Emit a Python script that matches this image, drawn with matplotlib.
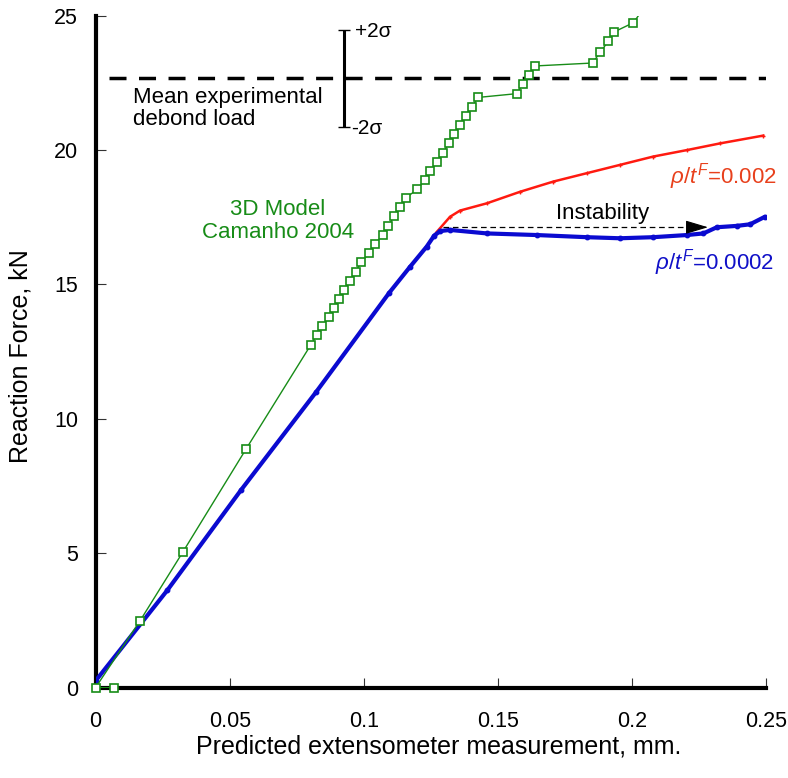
import matplotlib
matplotlib.use("Agg")
import matplotlib.pyplot as plt
import numpy as np

plt.rcParams['font.family'] = ['Liberation Sans', 'DejaVu Sans']
plt.rcParams['mathtext.fontset'] = 'custom'
plt.rcParams['mathtext.rm'] = 'Liberation Sans'
plt.rcParams['mathtext.it'] = 'Liberation Sans:italic'

# ---------------- data ----------------
green_x = [0.0069, 0.0, 0.0166, 0.0325, 0.0561, 0.0802, 0.0824, 0.0845, 0.0870, 0.0890,
           0.0908, 0.0927, 0.0948, 0.0969, 0.0990, 0.1019, 0.1041, 0.1070, 0.1091, 0.1113,
           0.1136, 0.1158, 0.1198, 0.1227, 0.1248, 0.1271, 0.1295, 0.1316, 0.1337, 0.1358,
           0.1379, 0.1402, 0.1426, 0.1569, 0.1592, 0.1615, 0.1636, 0.1852, 0.1880, 0.1911,
           0.1933, 0.2004, 0.2066]
green_y = [0.0, 0.0, 2.49, 5.04, 8.88, 12.75, 13.12, 13.46, 13.78, 14.11,
           14.45, 14.78, 15.13, 15.48, 15.83, 16.16, 16.50, 16.84, 17.19, 17.54,
           17.88, 18.23, 18.54, 18.88, 19.21, 19.55, 19.90, 20.25, 20.59, 20.95,
           21.27, 21.61, 21.96, 22.10, 22.45, 22.79, 23.13, 23.24, 23.64, 24.05,
           24.40, 24.74, 25.60]

red_x = [0.0, 0.0268, 0.0542, 0.0822, 0.1095, 0.1172, 0.1234, 0.1271, 0.1321, 0.1358,
         0.1458, 0.1582, 0.1706, 0.1830, 0.1954, 0.2078, 0.2203, 0.2327, 0.2488]
red_y = [0.25, 3.63, 7.35, 11.0, 14.7, 15.66, 16.41, 16.95, 17.52, 17.75,
         18.02, 18.45, 18.83, 19.14, 19.45, 19.76, 20.00, 20.25, 20.54]

blue_x = [0.0, 0.0268, 0.0542, 0.0822, 0.1095, 0.1172, 0.1234, 0.1262, 0.1285, 0.1321,
          0.1458, 0.1644, 0.1830, 0.1954, 0.2078, 0.2203, 0.2265, 0.2315, 0.2389,
          0.2439, 0.2494]
blue_y = [0.25, 3.63, 7.35, 11.0, 14.7, 15.66, 16.41, 16.82, 16.99, 17.03,
          16.90, 16.84, 16.76, 16.72, 16.76, 16.84, 16.90, 17.13, 17.18,
          17.24, 17.52]

mean_load = 22.67
sigma = 0.9
instab_y = 17.13
instab_x0 = 0.1295
instab_x1 = 0.2282

x_ticks = [0, 0.05, 0.1, 0.15, 0.2, 0.25]
x_ticklabels = ['0', '0.05', '0.1', '0.15', '0.2', '0.25']
y_ticks = [0, 5, 10, 15, 20, 25]
y_ticklabels = ['0', '5', '10', '15', '20', '25']

# ---------------- figure ----------------
fig = plt.figure(figsize=(7.88, 7.78), dpi=100)
ax = fig.add_axes([0.1212, 0.1161, 0.8515, 0.8637])
ax.set_xlim(0, 0.25)
ax.set_ylim(0, 25)

green = '#178c17'
red_c = '#ff1a10'
blue_c = '#0a0ad0'

# red and blue FE curves
ax.plot(red_x, red_y, color=red_c, lw=1.8, marker='+', ms=3.5, mew=1.0, zorder=3)
ax.plot(blue_x, blue_y, color=blue_c, lw=3.0, marker='o', ms=3.2, zorder=4,
        solid_capstyle='round', solid_joinstyle='round')

# green 3D model
ax.plot(green_x, green_y, color=green, lw=1.0, zorder=5)
gx = np.array(green_x); gy = np.array(green_y)
m = gy <= 25
ax.plot(gx[m], gy[m], ls='none', marker='s', ms=6.0, mfc='white', mec=green,
        mew=1.2, clip_on=False, zorder=6)

# mean experimental debond load
ax.plot([0.0051, 0.25], [mean_load, mean_load], color='black', lw=2.5,
        dashes=(4.9, 3.6), zorder=2)
ax.errorbar([0.0926], [mean_load], yerr=[[2 * sigma], [2 * sigma]], fmt='none',
            ecolor='black', elinewidth=2.2, capsize=4, capthick=1.0, zorder=2)
ax.text(0.0965, mean_load + 2 * sigma - 0.07, '+2σ', fontsize=15, va='center', ha='left')
ax.text(0.0954, mean_load - 2 * sigma - 0.07, '-2σ', fontsize=15, va='center', ha='left')
ax.text(0.0141, 21.55, 'Mean experimental\ndebond load', fontsize=16,
        ha='left', va='center', linespacing=1.08)

# labels
ax.text(0.068, 17.36, '3D Model\nCamanho 2004', fontsize=16, color=green,
        ha='center', va='center', linespacing=1.1)
ax.text(0.2537, 19.0, r'$\rho/t^F$=0.002', fontsize=16, color='#e8401c',
        ha='right', va='center', clip_on=False)
ax.text(0.2530, 15.8, r'$\rho/t^F$=0.0002', fontsize=16, color='#1010c8',
        ha='right', va='center', clip_on=False)

# instability arrow
ax.plot([instab_x0, instab_x1 - 0.006], [instab_y, instab_y], color='black',
        lw=0.9, dashes=(4.5, 3.0), zorder=5)
ax.annotate('', xy=(instab_x1, instab_y), xytext=(instab_x1 - 0.007, instab_y),
            arrowprops=dict(arrowstyle='-|>,head_length=1.0,head_width=0.3',
                            mutation_scale=14, color='black', lw=0.8,
                            shrinkA=0, shrinkB=0), zorder=6)
ax.text(0.1891, 17.65, 'Instability', fontsize=16, ha='center', va='center')

# axes styling
for s in ['top', 'right']:
    ax.spines[s].set_visible(False)
for s in ['left', 'bottom']:
    ax.spines[s].set_linewidth(3.0)
    ax.spines[s].set_color('black')
ax.set_xticks(x_ticks)
ax.set_xticklabels(x_ticklabels)
ax.set_yticks(y_ticks)
ax.set_yticklabels(y_ticklabels)
ax.tick_params(axis='both', direction='in', length=7, width=0.8, color='#333333',
               labelsize=15.5)
ax.tick_params(axis='x', pad=17)
ax.tick_params(axis='y', pad=12.5)

ax.set_xlabel('Predicted extensometer measurement, mm.', fontsize=18)
ax.set_ylabel('Reaction Force, kN', fontsize=18)
ax.xaxis.set_label_coords(0.511, -0.069)
ax.yaxis.set_label_coords(-0.0946, 0.494)

fig.savefig('out.png', dpi=100)
